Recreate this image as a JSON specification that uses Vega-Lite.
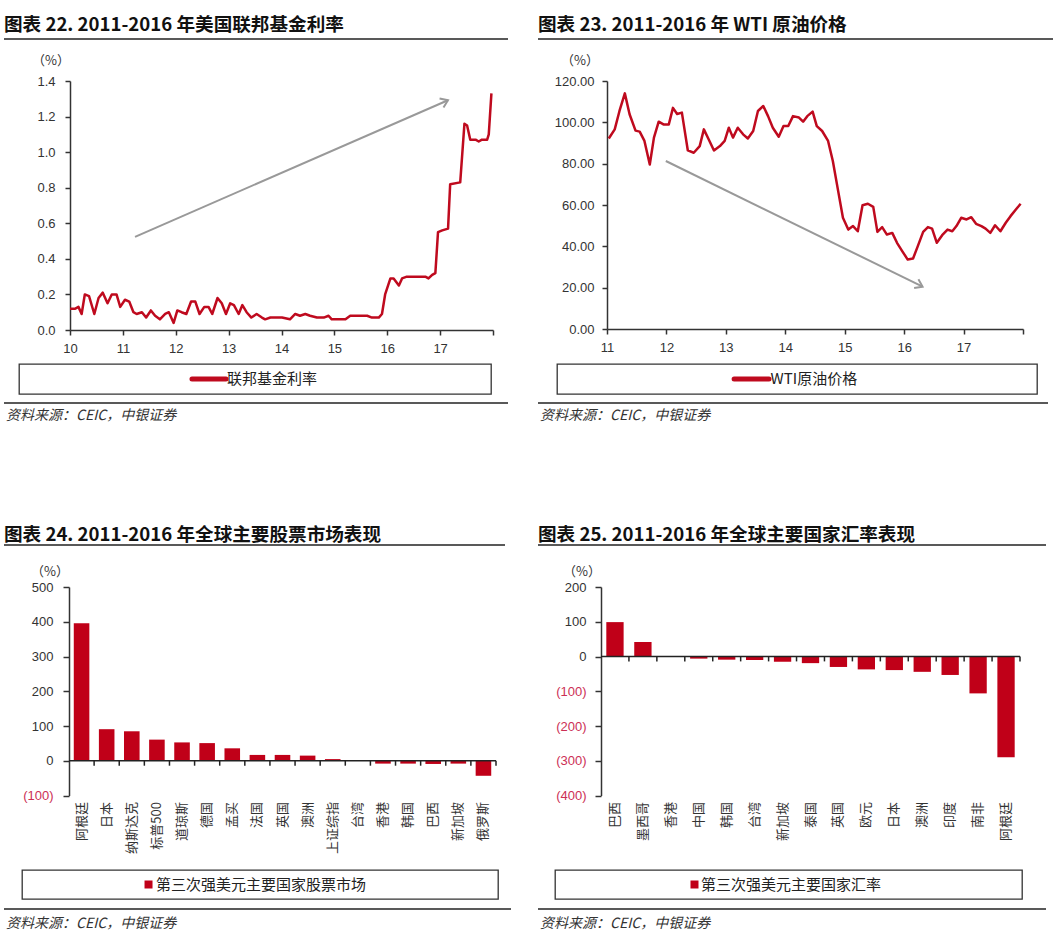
{
  "$schema": "https://vega.github.io/schema/vega-lite/v6.json",
  "background": "white",
  "padding": {"left": 3, "top": 15, "right": 5, "bottom": 5},
  "config": {
    "view": {"stroke": null},
    "axis": {"grid": false, "labelFont": "Liberation Sans", "labelFontSize": 13, "labelColor": "#333", "domainColor": "#333", "tickColor": "#333", "domainWidth": 1.5, "tickWidth": 1.5, "labelOverlap": false},
    "title": {"font": "Noto Sans CJK SC", "color": "#111"}
  },
  "spacing": 25,
  "hconcat": [
    {
      "spacing": 96,
      "vconcat": [
        {
          "spacing": 0,
          "vconcat": [
            {
              "width": 504, "height": 16,
              "title": {"text": "图表 22. 2011-2016 年美国联邦基金利率", "anchor": "start", "frame": "group", "offset": 4, "fontSize": 18.6, "fontWeight": "bold"},
              "data": {"values": [{}]},
              "mark": {"type": "rule", "color": "#222", "strokeWidth": 1.5},
              "encoding": {"y": {"datum": 1, "type": "quantitative", "scale": {"domain": [0, 1]}, "axis": null}}
            },
            {
              "spacing": 0,
              "hconcat": [
                {"width": 1, "height": 1, "data": {"values": []}, "mark": "point"},
                {
                  "width": 423, "height": 249,
                  "title": {"text": "（%）", "anchor": "start", "frame": "group", "dx": -38, "offset": 7, "fontSize": 13, "fontWeight": "normal", "color": "#333"},
                  "layer": [
                    {
                      "data": {"values": [
                        {"t": 10.00, "rate": 0.12}, {"t": 10.10, "rate": 0.12}, {"t": 10.16, "rate": 0.13}, {"t": 10.22, "rate": 0.09}, {"t": 10.28, "rate": 0.20}, {"t": 10.36, "rate": 0.19}, {"t": 10.46, "rate": 0.09}, {"t": 10.54, "rate": 0.18}, {"t": 10.62, "rate": 0.21}, {"t": 10.71, "rate": 0.15}, {"t": 10.79, "rate": 0.20}, {"t": 10.88, "rate": 0.20}, {"t": 10.95, "rate": 0.13}, {"t": 11.04, "rate": 0.17}, {"t": 11.12, "rate": 0.16}, {"t": 11.20, "rate": 0.10}, {"t": 11.26, "rate": 0.09}, {"t": 11.36, "rate": 0.10}, {"t": 11.44, "rate": 0.07}, {"t": 11.53, "rate": 0.11}, {"t": 11.61, "rate": 0.08}, {"t": 11.70, "rate": 0.06}, {"t": 11.80, "rate": 0.09}, {"t": 11.87, "rate": 0.10}, {"t": 11.96, "rate": 0.04}, {"t": 12.03, "rate": 0.11}, {"t": 12.11, "rate": 0.10}, {"t": 12.20, "rate": 0.09}, {"t": 12.29, "rate": 0.16}, {"t": 12.37, "rate": 0.16}, {"t": 12.45, "rate": 0.09}, {"t": 12.54, "rate": 0.13}, {"t": 12.62, "rate": 0.13}, {"t": 12.69, "rate": 0.09}, {"t": 12.79, "rate": 0.18}, {"t": 12.87, "rate": 0.15}, {"t": 12.95, "rate": 0.09}, {"t": 13.03, "rate": 0.15}, {"t": 13.10, "rate": 0.14}, {"t": 13.19, "rate": 0.09}, {"t": 13.26, "rate": 0.14}, {"t": 13.34, "rate": 0.10}, {"t": 13.43, "rate": 0.07}, {"t": 13.53, "rate": 0.09}, {"t": 13.63, "rate": 0.07}, {"t": 13.69, "rate": 0.06}, {"t": 13.79, "rate": 0.07}, {"t": 14.01, "rate": 0.07}, {"t": 14.16, "rate": 0.06}, {"t": 14.26, "rate": 0.09}, {"t": 14.35, "rate": 0.08}, {"t": 14.45, "rate": 0.09}, {"t": 14.54, "rate": 0.08}, {"t": 14.67, "rate": 0.07}, {"t": 14.80, "rate": 0.07}, {"t": 14.89, "rate": 0.08}, {"t": 14.95, "rate": 0.06}, {"t": 15.21, "rate": 0.06}, {"t": 15.30, "rate": 0.08}, {"t": 15.52, "rate": 0.08}, {"t": 15.62, "rate": 0.08}, {"t": 15.71, "rate": 0.07}, {"t": 15.84, "rate": 0.07}, {"t": 15.90, "rate": 0.09}, {"t": 15.96, "rate": 0.20}, {"t": 16.06, "rate": 0.29}, {"t": 16.12, "rate": 0.29}, {"t": 16.22, "rate": 0.25}, {"t": 16.28, "rate": 0.29}, {"t": 16.37, "rate": 0.30}, {"t": 16.47, "rate": 0.30}, {"t": 16.72, "rate": 0.30}, {"t": 16.78, "rate": 0.29}, {"t": 16.85, "rate": 0.31}, {"t": 16.91, "rate": 0.32}, {"t": 16.96, "rate": 0.55}, {"t": 17.04, "rate": 0.56}, {"t": 17.15, "rate": 0.57}, {"t": 17.19, "rate": 0.82}, {"t": 17.38, "rate": 0.83}, {"t": 17.46, "rate": 1.16}, {"t": 17.51, "rate": 1.15}, {"t": 17.57, "rate": 1.07}, {"t": 17.67, "rate": 1.07}, {"t": 17.73, "rate": 1.06}, {"t": 17.79, "rate": 1.07}, {"t": 17.89, "rate": 1.07}, {"t": 17.92, "rate": 1.10}, {"t": 17.97, "rate": 1.33}
                      ]},
                      "mark": {"type": "line", "color": "#bf0a1e", "strokeWidth": 2.5, "strokeJoin": "round"},
                      "encoding": {
                        "x": {"field": "t", "type": "quantitative", "scale": {"domain": [10, 18], "nice": false, "zero": false},
                              "axis": {"title": null, "values": [10, 11, 12, 13, 14, 15, 16, 17, 18], "tickCount": 30, "format": "d", "labelExpr": "datum.value == 18 ? '' : datum.label", "tickSize": 5, "labelPadding": 7, "labelFlush": false, "labelOverlap": false, "minExtent": 33, "maxExtent": 33}},
                        "y": {"field": "rate", "type": "quantitative", "scale": {"domain": [0, 1.4], "nice": false},
                              "axis": {"title": null, "values": [0, 0.2, 0.4, 0.6, 0.8, 1.0, 1.2, 1.4], "tickCount": 30, "format": ".1f", "tickSize": 5, "labelPadding": 10, "labelOverlap": false, "minExtent": 65, "maxExtent": 65}}
                      }
                    },
                    {
                      "data": {"values": [{}]},
                      "mark": {"type": "rule", "color": "#999", "strokeWidth": 2},
                      "encoding": {"x": {"datum": 11.23}, "y": {"datum": 0.524}, "x2": {"datum": 17.148}, "y2": {"datum": 1.292}}
                    },
                    {
                      "data": {"values": [{}]},
                      "mark": {"type": "point", "shape": "M-1,-0.7L0,0L-1,0.7", "filled": false, "color": "#999", "strokeWidth": 2, "size": 196, "angle": -23.6, "opacity": 1},
                      "encoding": {"x": {"datum": 17.148}, "y": {"datum": 1.292}}
                    }
                  ]
                }
              ]
            },
            {
              "spacing": 0,
              "hconcat": [
                {"width": 1, "height": 1, "data": {"values": []}, "mark": "point"},
                {
                  "width": 472, "height": 30,
                  "view": {"stroke": "#333", "strokeWidth": 1.3},
                  "data": {"values": [{}]},
                  "layer": [
                    {
                      "mark": {"type": "rule", "color": "#bf0a1e", "strokeWidth": 5, "strokeCap": "round"},
                      "encoding": {
                        "x": {"datum": 0.3665, "type": "quantitative", "scale": {"domain": [0, 1]}, "axis": {"title": null, "labels": false, "ticks": false, "domain": false, "minExtent": 7, "maxExtent": 7}},
                        "x2": {"datum": 0.4386},
                        "y": {"datum": 0.5, "type": "quantitative", "scale": {"domain": [0, 1]}, "axis": {"title": null, "labels": false, "ticks": false, "domain": false, "minExtent": 13, "maxExtent": 13}}
                      }
                    },
                    {
                      "mark": {"type": "text", "align": "left", "baseline": "middle", "fontSize": 15, "font": "Noto Sans CJK SC", "color": "#222"},
                      "encoding": {"x": {"datum": 0.4407}, "y": {"datum": 0.5}, "text": {"value": "联邦基金利率"}}
                    }
                  ]
                }
              ]
            },
            {
              "width": 504, "height": 26,
              "data": {"values": [{}]},
              "layer": [
                {
                  "mark": {"type": "rule", "color": "#222", "strokeWidth": 1.5},
                  "encoding": {"y": {"datum": 1, "type": "quantitative", "scale": {"domain": [0, 1]}, "axis": null}}
                },
                {
                  "mark": {"type": "text", "align": "left", "baseline": "middle", "fontSize": 14, "fontStyle": "italic", "font": "Noto Sans CJK SC", "color": "#333", "dx": 2},
                  "encoding": {"x": {"datum": 0, "type": "quantitative", "scale": {"domain": [0, 1]}, "axis": null}, "y": {"datum": 0.5}, "text": {"value": "资料来源：CEIC，中银证券"}}
                }
              ]
            }
          ]
        },
        {
          "spacing": 0,
          "vconcat": [
            {
              "width": 501, "height": 20.7,
              "title": {"text": "图表 24. 2011-2016 年全球主要股票市场表现", "anchor": "start", "frame": "group", "offset": 0, "fontSize": 18.6, "fontWeight": "bold"},
              "data": {"values": [{}]},
              "mark": {"type": "rule", "color": "#222", "strokeWidth": 1.5},
              "encoding": {"y": {"datum": 1, "type": "quantitative", "scale": {"domain": [0, 1]}, "axis": null}}
            },
            {
              "spacing": 0,
              "hconcat": [
                {"width": 1, "height": 1, "data": {"values": []}, "mark": "point"},
                {
                  "width": 427, "height": 208.6,
                  "title": {"text": "（%）", "anchor": "start", "frame": "group", "dx": -38, "offset": 2, "fontSize": 13, "fontWeight": "normal", "color": "#333"},
                  "layer": [
                    {
                      "data": {"values": [
                        {"market": "阿根廷", "value": 396}, {"market": "日本", "value": 91}, {"market": "纳斯达克", "value": 85}, {"market": "标普500", "value": 61}, {"market": "道琼斯", "value": 53}, {"market": "德国", "value": 51}, {"market": "孟买", "value": 36}, {"market": "法国", "value": 17}, {"market": "英国", "value": 17}, {"market": "澳洲", "value": 15}, {"market": "上证综指", "value": 5}, {"market": "台湾", "value": 0}, {"market": "香港", "value": -8}, {"market": "韩国", "value": -8}, {"market": "巴西", "value": -9}, {"market": "新加坡", "value": -8}, {"market": "俄罗斯", "value": -43}
                      ]},
                      "mark": {"type": "bar", "color": "#c00018", "width": {"band": 0.62}},
                      "encoding": {
                        "x": {"field": "market", "type": "nominal", "sort": null, "scale": {"paddingInner": 0, "paddingOuter": 0},
                              "axis": {"title": null, "labelAngle": -90, "labelFont": "Noto Sans CJK SC", "labelFontSize": 13, "labelPadding": 6, "domain": false, "ticks": false, "tickSize": 0, "labelOverlap": false, "minExtent": 72.7, "maxExtent": 72.7}},
                        "y": {"field": "value", "type": "quantitative", "scale": {"domain": [-100, 500], "nice": false},
                              "axis": {"title": null, "values": [-100, 0, 100, 200, 300, 400, 500], "tickCount": 30, "labelExpr": "datum.value < 0 ? '(' + format(-datum.value, 'd') + ')' : datum.label", "labelColor": {"condition": {"test": "datum.value < 0", "value": "#cc2f55"}, "value": "#333"}, "tickSize": 6, "labelPadding": 10, "labelOverlap": false, "minExtent": 64, "maxExtent": 64}}
                      }
                    },
                    {
                      "data": {"values": [{}]},
                      "mark": {"type": "rule", "color": "#222", "strokeWidth": 1.5},
                      "encoding": {"y": {"datum": 0}}
                    },
                    {
                      "data": {"values": [
                        {"market": "阿根廷"}, {"market": "日本"}, {"market": "纳斯达克"}, {"market": "标普500"}, {"market": "道琼斯"}, {"market": "德国"}, {"market": "孟买"}, {"market": "法国"}, {"market": "英国"}, {"market": "澳洲"}, {"market": "上证综指"}, {"market": "台湾"}, {"market": "香港"}, {"market": "韩国"}, {"market": "巴西"}, {"market": "新加坡"}, {"market": "俄罗斯"}
                      ]},
                      "mark": {"type": "rule", "color": "#222", "strokeWidth": 1.5},
                      "encoding": {"x": {"field": "market", "type": "nominal", "sort": null, "bandPosition": 1}, "y": {"datum": 0}, "y2": {"datum": -14}}
                    }
                  ]
                }
              ]
            },
            {
              "spacing": 0,
              "hconcat": [
                {"width": 1, "height": 1, "data": {"values": []}, "mark": "point"},
                {
                  "width": 476, "height": 29,
                  "view": {"stroke": "#333", "strokeWidth": 1.3},
                  "data": {"values": [{}]},
                  "layer": [
                    {
                      "mark": {"type": "point", "shape": "square", "filled": true, "color": "#c00018", "size": 64, "opacity": 1},
                      "encoding": {
                        "x": {"datum": 0.2658, "type": "quantitative", "scale": {"domain": [0, 1]}, "axis": {"title": null, "labels": false, "ticks": false, "domain": false, "minExtent": 8, "maxExtent": 8}},
                        "y": {"datum": 0.5, "type": "quantitative", "scale": {"domain": [0, 1]}, "axis": {"title": null, "labels": false, "ticks": false, "domain": false, "minExtent": 16, "maxExtent": 16}}
                      }
                    },
                    {
                      "mark": {"type": "text", "align": "left", "baseline": "middle", "fontSize": 15, "font": "Noto Sans CJK SC", "color": "#222"},
                      "encoding": {"x": {"datum": 0.2815}, "y": {"datum": 0.5}, "text": {"value": "第三次强美元主要国家股票市场"}}
                    }
                  ]
                }
              ]
            },
            {
              "width": 507, "height": 30,
              "data": {"values": [{}]},
              "layer": [
                {
                  "mark": {"type": "rule", "color": "#222", "strokeWidth": 1.5},
                  "encoding": {"y": {"datum": 1, "type": "quantitative", "scale": {"domain": [0, 1]}, "axis": null}}
                },
                {
                  "mark": {"type": "text", "align": "left", "baseline": "middle", "fontSize": 14, "fontStyle": "italic", "font": "Noto Sans CJK SC", "color": "#333", "dx": 2},
                  "encoding": {"x": {"datum": 0, "type": "quantitative", "scale": {"domain": [0, 1]}, "axis": null}, "y": {"datum": 0.5}, "text": {"value": "资料来源：CEIC，中银证券"}}
                }
              ]
            }
          ]
        }
      ]
    },
    {
      "spacing": 96,
      "vconcat": [
        {
          "spacing": 0,
          "vconcat": [
            {
              "width": 515, "height": 16,
              "title": {"text": "图表 23. 2011-2016 年 WTI 原油价格", "anchor": "start", "frame": "group", "offset": 4, "fontSize": 18.6, "fontWeight": "bold"},
              "data": {"values": [{}]},
              "mark": {"type": "rule", "color": "#222", "strokeWidth": 1.5},
              "encoding": {"y": {"datum": 1, "type": "quantitative", "scale": {"domain": [0, 1]}, "axis": null}}
            },
            {
              "spacing": 0,
              "hconcat": [
                {"width": 1, "height": 1, "data": {"values": []}, "mark": "point"},
                {
                  "width": 416, "height": 248,
                  "title": {"text": "（%）", "anchor": "start", "frame": "group", "dx": -46, "offset": 7, "fontSize": 13, "fontWeight": "normal", "color": "#333"},
                  "layer": [
                    {
                      "data": {"values": [
                        {"t": 11.03, "price": 92.2}, {"t": 11.13, "price": 96.6}, {"t": 11.21, "price": 105.5}, {"t": 11.30, "price": 114.0}, {"t": 11.38, "price": 103.9}, {"t": 11.48, "price": 96.0}, {"t": 11.55, "price": 95.5}, {"t": 11.63, "price": 91.0}, {"t": 11.72, "price": 79.6}, {"t": 11.79, "price": 92.6}, {"t": 11.87, "price": 100.3}, {"t": 11.95, "price": 99.0}, {"t": 12.04, "price": 99.0}, {"t": 12.11, "price": 107.0}, {"t": 12.18, "price": 104.0}, {"t": 12.26, "price": 104.7}, {"t": 12.36, "price": 86.4}, {"t": 12.46, "price": 85.3}, {"t": 12.56, "price": 88.5}, {"t": 12.63, "price": 96.6}, {"t": 12.71, "price": 91.8}, {"t": 12.80, "price": 86.4}, {"t": 12.90, "price": 88.5}, {"t": 12.98, "price": 91.0}, {"t": 13.05, "price": 97.4}, {"t": 13.12, "price": 92.6}, {"t": 13.20, "price": 97.4}, {"t": 13.29, "price": 94.2}, {"t": 13.37, "price": 92.2}, {"t": 13.46, "price": 95.8}, {"t": 13.54, "price": 105.5}, {"t": 13.63, "price": 107.9}, {"t": 13.71, "price": 103.0}, {"t": 13.79, "price": 97.4}, {"t": 13.89, "price": 93.0}, {"t": 13.97, "price": 98.2}, {"t": 14.05, "price": 98.2}, {"t": 14.13, "price": 103.0}, {"t": 14.23, "price": 102.3}, {"t": 14.30, "price": 100.3}, {"t": 14.37, "price": 103.0}, {"t": 14.46, "price": 105.2}, {"t": 14.53, "price": 98.2}, {"t": 14.62, "price": 95.8}, {"t": 14.72, "price": 91.0}, {"t": 14.80, "price": 81.3}, {"t": 14.89, "price": 66.7}, {"t": 14.97, "price": 53.8}, {"t": 15.06, "price": 48.1}, {"t": 15.14, "price": 49.8}, {"t": 15.22, "price": 47.3}, {"t": 15.30, "price": 59.9}, {"t": 15.39, "price": 60.6}, {"t": 15.48, "price": 59.1}, {"t": 15.55, "price": 47.0}, {"t": 15.63, "price": 49.3}, {"t": 15.71, "price": 45.7}, {"t": 15.80, "price": 46.5}, {"t": 15.88, "price": 41.7}, {"t": 15.97, "price": 37.6}, {"t": 16.06, "price": 33.6}, {"t": 16.15, "price": 34.1}, {"t": 16.23, "price": 40.1}, {"t": 16.32, "price": 47.0}, {"t": 16.40, "price": 49.3}, {"t": 16.47, "price": 48.6}, {"t": 16.55, "price": 41.7}, {"t": 16.64, "price": 45.4}, {"t": 16.73, "price": 48.1}, {"t": 16.81, "price": 47.3}, {"t": 16.88, "price": 49.8}, {"t": 16.96, "price": 53.8}, {"t": 17.05, "price": 53.0}, {"t": 17.13, "price": 54.1}, {"t": 17.21, "price": 50.9}, {"t": 17.30, "price": 49.8}, {"t": 17.37, "price": 48.6}, {"t": 17.45, "price": 46.5}, {"t": 17.53, "price": 50.2}, {"t": 17.62, "price": 47.3}, {"t": 17.71, "price": 51.4}, {"t": 17.79, "price": 54.6}, {"t": 17.88, "price": 57.8}, {"t": 17.96, "price": 60.6}
                      ]},
                      "mark": {"type": "line", "color": "#bf0a1e", "strokeWidth": 2.5, "strokeJoin": "round"},
                      "encoding": {
                        "x": {"field": "t", "type": "quantitative", "scale": {"domain": [11, 18], "nice": false, "zero": false},
                              "axis": {"title": null, "values": [11, 12, 13, 14, 15, 16, 17, 18], "tickCount": 30, "format": "d", "labelExpr": "datum.value == 18 ? '' : datum.label", "tickSize": 5, "labelPadding": 7, "labelFlush": false, "labelOverlap": false, "minExtent": 34, "maxExtent": 34}},
                        "y": {"field": "price", "type": "quantitative", "scale": {"domain": [0, 120], "nice": false},
                              "axis": {"title": null, "values": [0, 20, 40, 60, 80, 100, 120], "tickCount": 30, "format": ".2f", "tickSize": 5, "labelPadding": 8, "labelOverlap": false, "minExtent": 68, "maxExtent": 68}}
                      }
                    },
                    {
                      "data": {"values": [{}]},
                      "mark": {"type": "rule", "color": "#999", "strokeWidth": 2},
                      "encoding": {"x": {"datum": 11.99}, "y": {"datum": 81.3}, "x2": {"datum": 16.31}, "y2": {"datum": 20.5}}
                    },
                    {
                      "data": {"values": [{}]},
                      "mark": {"type": "point", "shape": "M-1,-0.7L0,0L-1,0.7", "filled": false, "color": "#999", "strokeWidth": 2, "size": 196, "angle": 25.9, "opacity": 1},
                      "encoding": {"x": {"datum": 16.31}, "y": {"datum": 20.5}}
                    }
                  ]
                }
              ]
            },
            {
              "spacing": 0,
              "hconcat": [
                {"width": 1, "height": 1, "data": {"values": []}, "mark": "point"},
                {
                  "width": 480, "height": 30,
                  "view": {"stroke": "#333", "strokeWidth": 1.3},
                  "data": {"values": [{}]},
                  "layer": [
                    {
                      "mark": {"type": "rule", "color": "#bf0a1e", "strokeWidth": 5, "strokeCap": "round"},
                      "encoding": {
                        "x": {"datum": 0.369, "type": "quantitative", "scale": {"domain": [0, 1]}, "axis": {"title": null, "labels": false, "ticks": false, "domain": false, "minExtent": 7, "maxExtent": 7}},
                        "x2": {"datum": 0.4417},
                        "y": {"datum": 0.5, "type": "quantitative", "scale": {"domain": [0, 1]}, "axis": {"title": null, "labels": false, "ticks": false, "domain": false, "minExtent": 17, "maxExtent": 17}}
                      }
                    },
                    {
                      "mark": {"type": "text", "align": "left", "baseline": "middle", "fontSize": 15, "font": "Noto Sans CJK SC", "color": "#222"},
                      "encoding": {"x": {"datum": 0.445}, "y": {"datum": 0.5}, "text": {"value": "WTI原油价格"}}
                    }
                  ]
                }
              ]
            },
            {
              "width": 510, "height": 26,
              "data": {"values": [{}]},
              "layer": [
                {
                  "mark": {"type": "rule", "color": "#222", "strokeWidth": 1.5},
                  "encoding": {"y": {"datum": 1, "type": "quantitative", "scale": {"domain": [0, 1]}, "axis": null}}
                },
                {
                  "mark": {"type": "text", "align": "left", "baseline": "middle", "fontSize": 14, "fontStyle": "italic", "font": "Noto Sans CJK SC", "color": "#333", "dx": 2},
                  "encoding": {"x": {"datum": 0, "type": "quantitative", "scale": {"domain": [0, 1]}, "axis": null}, "y": {"datum": 0.5}, "text": {"value": "资料来源：CEIC，中银证券"}}
                }
              ]
            }
          ]
        },
        {
          "spacing": 0,
          "vconcat": [
            {
              "width": 508, "height": 20.7,
              "title": {"text": "图表 25. 2011-2016 年全球主要国家汇率表现", "anchor": "start", "frame": "group", "offset": 0, "fontSize": 18.6, "fontWeight": "bold"},
              "data": {"values": [{}]},
              "mark": {"type": "rule", "color": "#222", "strokeWidth": 1.5},
              "encoding": {"y": {"datum": 1, "type": "quantitative", "scale": {"domain": [0, 1]}, "axis": null}}
            },
            {
              "spacing": 0,
              "hconcat": [
                {"width": 1, "height": 1, "data": {"values": []}, "mark": "point"},
                {
                  "width": 419, "height": 208.6,
                  "title": {"text": "（%）", "anchor": "start", "frame": "group", "dx": -38, "offset": 2, "fontSize": 13, "fontWeight": "normal", "color": "#333"},
                  "layer": [
                    {
                      "data": {"values": [
                        {"country": "巴西", "value": 99}, {"country": "墨西哥", "value": 42}, {"country": "香港", "value": 0}, {"country": "中国", "value": -6}, {"country": "韩国", "value": -9}, {"country": "台湾", "value": -10}, {"country": "新加坡", "value": -15}, {"country": "泰国", "value": -19}, {"country": "英国", "value": -30}, {"country": "欧元", "value": -37}, {"country": "日本", "value": -39}, {"country": "澳洲", "value": -44}, {"country": "印度", "value": -53}, {"country": "南非", "value": -106}, {"country": "阿根廷", "value": -290}
                      ]},
                      "mark": {"type": "bar", "color": "#c00018", "width": {"band": 0.62}},
                      "encoding": {
                        "x": {"field": "country", "type": "nominal", "sort": null, "scale": {"paddingInner": 0, "paddingOuter": 0},
                              "axis": {"title": null, "labelAngle": -90, "labelFont": "Noto Sans CJK SC", "labelFontSize": 13, "labelPadding": 6, "domain": false, "ticks": false, "tickSize": 0, "labelOverlap": false, "minExtent": 72.7, "maxExtent": 72.7}},
                        "y": {"field": "value", "type": "quantitative", "scale": {"domain": [-400, 200], "nice": false},
                              "axis": {"title": null, "values": [-400, -300, -200, -100, 0, 100, 200], "tickCount": 30, "labelExpr": "datum.value < 0 ? '(' + format(-datum.value, 'd') + ')' : datum.label", "labelColor": {"condition": {"test": "datum.value < 0", "value": "#cc2f55"}, "value": "#333"}, "tickSize": 6, "labelPadding": 9, "labelOverlap": false, "minExtent": 62, "maxExtent": 62}}
                      }
                    },
                    {
                      "data": {"values": [{}]},
                      "mark": {"type": "rule", "color": "#222", "strokeWidth": 1.5},
                      "encoding": {"y": {"datum": 0}}
                    },
                    {
                      "data": {"values": [
                        {"country": "巴西"}, {"country": "墨西哥"}, {"country": "香港"}, {"country": "中国"}, {"country": "韩国"}, {"country": "台湾"}, {"country": "新加坡"}, {"country": "泰国"}, {"country": "英国"}, {"country": "欧元"}, {"country": "日本"}, {"country": "澳洲"}, {"country": "印度"}, {"country": "南非"}, {"country": "阿根廷"}
                      ]},
                      "mark": {"type": "rule", "color": "#222", "strokeWidth": 1.5},
                      "encoding": {"x": {"field": "country", "type": "nominal", "sort": null, "bandPosition": 1}, "y": {"datum": 0}, "y2": {"datum": -14}}
                    }
                  ]
                }
              ]
            },
            {
              "spacing": 0,
              "hconcat": [
                {"width": 1, "height": 1, "data": {"values": []}, "mark": "point"},
                {
                  "width": 467, "height": 29,
                  "view": {"stroke": "#333", "strokeWidth": 1.3},
                  "data": {"values": [{}]},
                  "layer": [
                    {
                      "mark": {"type": "point", "shape": "square", "filled": true, "color": "#c00018", "size": 64, "opacity": 1},
                      "encoding": {
                        "x": {"datum": 0.2987, "type": "quantitative", "scale": {"domain": [0, 1]}, "axis": {"title": null, "labels": false, "ticks": false, "domain": false, "minExtent": 8, "maxExtent": 8}},
                        "y": {"datum": 0.5, "type": "quantitative", "scale": {"domain": [0, 1]}, "axis": {"title": null, "labels": false, "ticks": false, "domain": false, "minExtent": 15, "maxExtent": 15}}
                      }
                    },
                    {
                      "mark": {"type": "text", "align": "left", "baseline": "middle", "fontSize": 15, "font": "Noto Sans CJK SC", "color": "#222"},
                      "encoding": {"x": {"datum": 0.3126}, "y": {"datum": 0.5}, "text": {"value": "第三次强美元主要国家汇率"}}
                    }
                  ]
                }
              ]
            },
            {
              "width": 508, "height": 30,
              "data": {"values": [{}]},
              "layer": [
                {
                  "mark": {"type": "rule", "color": "#222", "strokeWidth": 1.5},
                  "encoding": {"y": {"datum": 1, "type": "quantitative", "scale": {"domain": [0, 1]}, "axis": null}}
                },
                {
                  "mark": {"type": "text", "align": "left", "baseline": "middle", "fontSize": 14, "fontStyle": "italic", "font": "Noto Sans CJK SC", "color": "#333", "dx": 2},
                  "encoding": {"x": {"datum": 0, "type": "quantitative", "scale": {"domain": [0, 1]}, "axis": null}, "y": {"datum": 0.5}, "text": {"value": "资料来源：CEIC，中银证券"}}
                }
              ]
            }
          ]
        }
      ]
    }
  ]
}
